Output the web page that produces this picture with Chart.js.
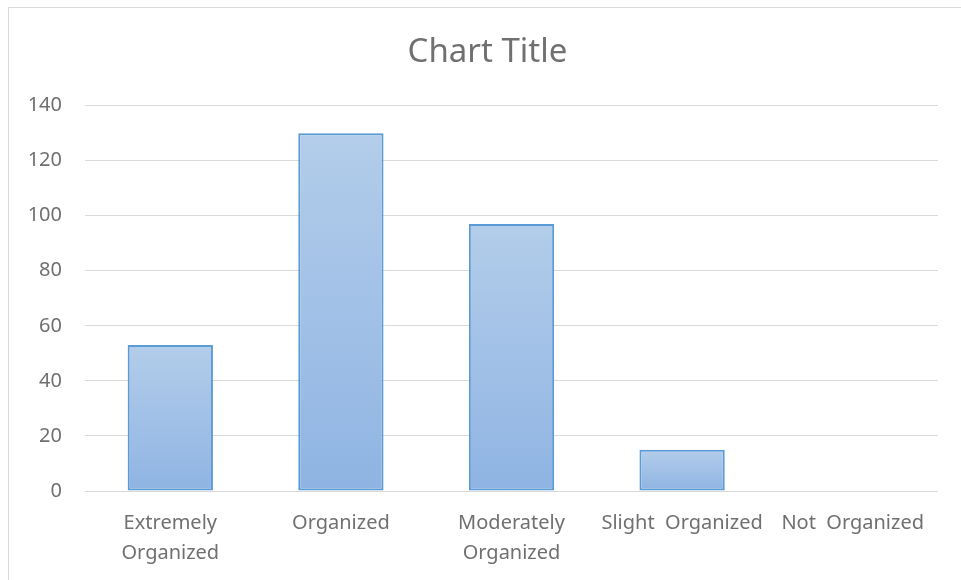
<!DOCTYPE html>
<html>
<head>
<meta charset="utf-8">
<script src="https://cdn.jsdelivr.net/npm/chart.js"></script>
<style>
  html, body { margin: 0; padding: 0; background: #ffffff; overflow: hidden; }
  #wrap { position: relative; width: 961px; height: 580px; }
  #frame {
    position: absolute; left: 8px; top: 7px; width: 1000px; height: 700px;
    border: 1px solid #d9d9d9; pointer-events: none;
  }
</style>
</head>
<body>
<div id="wrap">
  <canvas id="chart" width="961" height="580"></canvas>
  <div id="frame"></div>
</div>
<script>
// categories and counts
const categories = [
  ['Extremely', 'Organized'],
  'Organized',
  ['Moderately', 'Organized'],
  'Slight  Organized',
  'Not  Organized'
];
const counts = [53, 130, 97, 15, 0];
const yTicks = [0, 20, 40, 60, 80, 100, 120, 140];

const textGray = '#707070';
const gridGray = '#d9d9d9';
const fontFamily = "'Noto Sans', sans-serif";

// vertical gradient per bar, from its top down to the baseline
function barFill(context) {
  const chart = context.chart;
  const area = chart.chartArea;
  if (!area || context.type !== 'data') return '#a3c0e7';
  const y = chart.scales.y;
  const top = y.getPixelForValue(context.raw);
  const base = y.getPixelForValue(0);
  if (base - top < 1) return '#a3c0e7';
  const g = chart.ctx.createLinearGradient(0, top, 0, base);
  g.addColorStop(0, '#b3cdea');
  g.addColorStop(1, '#8fb4e3');
  return g;
}

new Chart(document.getElementById('chart'), {
  type: 'bar',
  data: {
    labels: categories,
    datasets: [{
      data: counts,
      backgroundColor: barFill,
      borderColor: '#5b9bd5',
      borderWidth: 2,
      borderSkipped: false,
      barPercentage: 0.5,
      categoryPercentage: 1,
      yAxisID: 'y'
    }]
  },
  options: {
    responsive: false,
    animation: false,
    layout: { padding: { left: 14, right: 0, top: 0, bottom: 0 } },
    scales: {
      x: {
        grid: { display: false },
        border: { display: false },
        ticks: {
          color: textGray,
          padding: 9,
          maxRotation: 0,
          autoSkip: false,
          font: { family: fontFamily, size: 20, lineHeight: 1.5 }
        },
        afterFit: function(scale) { scale.height = 89; }
      },
      y: {
        min: 0,
        max: 140,
        afterBuildTicks: function(scale) {
          scale.ticks = yTicks.map(v => ({ value: v }));
        },
        grid: { color: gridGray, lineWidth: 1, drawTicks: false },
        border: { display: false },
        ticks: {
          color: textGray,
          padding: 23,
          font: { family: fontFamily, size: 20 }
        },
        afterFit: function(scale) { scale.width = 71; }
      },
      // empty right-hand margin so the plot ends short of the edge
      yRight: {
        type: 'linear',
        position: 'right',
        grid: { display: false },
        border: { display: false },
        ticks: { display: false },
        afterFit: function(scale) { scale.width = 23; }
      }
    },
    plugins: {
      legend: { display: false },
      tooltip: { enabled: false },
      title: {
        display: true,
        text: 'Chart Title',
        color: textGray,
        font: { family: fontFamily, size: 33, weight: 'normal', lineHeight: 1.2 },
        padding: { top: 33, bottom: 33 }
      }
    }
  }
});
</script>
</body>
</html>
